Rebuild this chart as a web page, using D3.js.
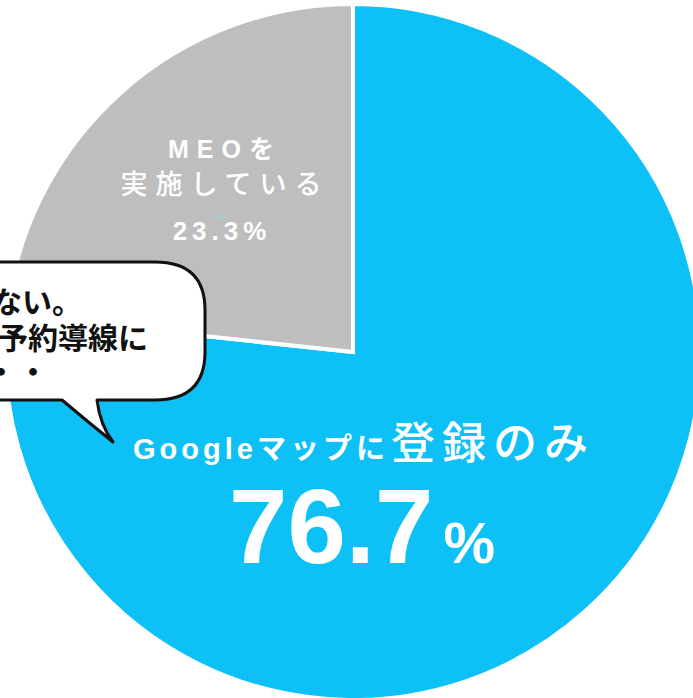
<!DOCTYPE html>
<html lang="ja">
<head>
  <meta charset="UTF-8">
  <title>MEO pie</title>
  <script src="https://d3js.org/d3.v7.min.js"></script>
  <style>
    body { margin: 0; background: #fff; }
    svg { display: block; }
    text { font-family: "Liberation Sans", Arial, "Noto Sans CJK JP", sans-serif; }
  </style>
</head>
<body>
  <svg width="693" height="698"></svg>
  <script>
    const categories = ["Googleマップに登録のみ", "MEOを実施している"];
    const values = [76.7, 23.3];
    const colors = ["#0dc0f5", "#bebebe"];

    const svg = d3.select("svg");
    const cx = 353, cy = 352, radius = 348;

    const pie = d3.pie().sort(null).value(d => d.value);
    const arc = d3.arc().innerRadius(0).outerRadius(radius);
    const data = categories.map((c, i) => ({ name: c, value: values[i], color: colors[i] }));

    const g = svg.append("g").attr("transform", `translate(${cx},${cy})`);
    g.selectAll("path")
      .data(pie(data))
      .enter()
      .append("path")
      .attr("d", arc)
      .attr("fill", d => d.data.color)
      .attr("stroke", "#fff")
      .attr("stroke-width", 4)
      .attr("stroke-linejoin", "miter");

    // gray slice label
    const gray = svg.append("g").attr("fill", "#fff").attr("text-anchor", "middle");
    gray.append("text")
      .attr("x", 225).attr("y", 158)
      .attr("font-size", 25).attr("font-weight", "bold")
      .attr("letter-spacing", 8)
      .text("MEOを");
    gray.append("text")
      .attr("x", 225).attr("y", 194)
      .attr("font-size", 27)
      .attr("font-family", "'Noto Sans CJK JP', sans-serif")
      .attr("font-weight", "500")
      .attr("letter-spacing", 8)
      .text("実施している");
    gray.append("text")
      .attr("x", 222).attr("y", 240)
      .attr("font-size", 26).attr("font-weight", "bold")
      .attr("letter-spacing", 5)
      .text(values[1].toFixed(1) + "%");
    svg.append("line")
      .attr("x1", 213).attr("x2", 227).attr("y1", 217).attr("y2", 217)
      .attr("stroke", "#8fd8ee").attr("stroke-width", 1);

    // blue slice label
    const blue = svg.append("text")
      .attr("x", 364).attr("y", 459)
      .attr("fill", "#fff").attr("text-anchor", "middle")
      .attr("font-weight", "bold");
    blue.append("tspan").attr("font-size", 29).attr("letter-spacing", 4).text("Googleマップに");
    blue.append("tspan").attr("font-size", 44).attr("letter-spacing", 7).attr("dx", 2)
      .attr("font-family", "'Noto Sans CJK JP', sans-serif").attr("font-weight", "500")
      .text("登録のみ");

    const pct = svg.append("text")
      .attr("x", 362).attr("y", 563)
      .attr("fill", "#fff").attr("text-anchor", "middle")
      .attr("font-weight", "bold");
    pct.append("tspan").attr("font-size", 105).text(values[0].toFixed(1));
    pct.append("tspan").attr("font-size", 58).attr("dx", 10).text("%");

    // speech bubble
    const bubble = svg.append("g");
    bubble.append("path")
      .attr("d", "M -20,262 L 155,262 Q 205,262 205,310 L 205,352 Q 205,400 155,400 L 97,400 Q 100,425 113,442 Q 88,422 62,400 L -20,400 Z")
      .attr("fill", "#fff")
      .attr("stroke", "#111")
      .attr("stroke-width", 3)
      .attr("stroke-linejoin", "round");
    const bt = bubble.append("g")
      .attr("fill", "#111")
      .attr("font-family", "'Noto Sans CJK JP', sans-serif")
      .attr("font-weight", "bold").attr("font-size", 30);
    bt.append("text").attr("x", -8).attr("y", 313).text("ない。");
    bt.append("text").attr("x", 148).attr("y", 349).attr("text-anchor", "end").text("予約導線に");
    bt.append("text").attr("x", -14).attr("y", 383).attr("letter-spacing", 2).text("・・");
  </script>
</body>
</html>
